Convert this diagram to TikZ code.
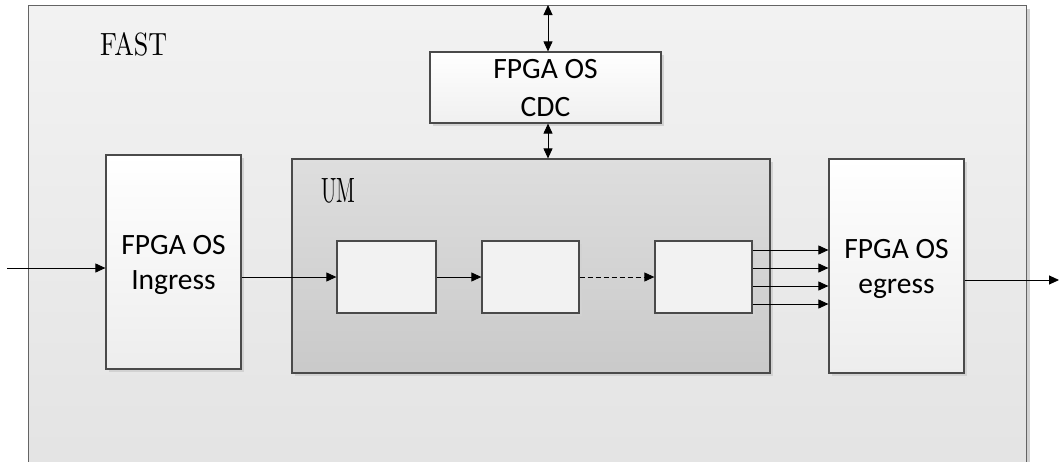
\documentclass[tikz,border=0pt]{standalone}
\usepackage{fontspec}
\usepackage{graphicx}
\newfontfamily\boxfont{Carlito}
\usetikzlibrary{arrows.meta}
\definecolor{edgec}{HTML}{4A4A4A}
\definecolor{fastedge}{HTML}{646464}
\definecolor{shadowc}{HTML}{D2D2D2}
\tikzset{
  shadowed/.style={preaction={fill=shadowc, transform canvas={xshift=3pt,yshift=-3pt}}},
  blk/.style={draw=edgec, line width=1.2pt, inner sep=0pt, align=center,
    font=\boxfont\fontsize{29.5}{35}\selectfont, text depth=0pt, shadowed},
  inner/.style={draw=edgec, line width=1.3pt, fill=black!5, inner sep=0pt,
    minimum height=72pt, shadowed},
  conn/.style={line width=0.9pt, -{Triangle[length=10pt,width=9pt]}},
  biconn/.style={line width=0.9pt, {Triangle[length=10pt,width=9pt]}-{Triangle[length=10pt,width=9pt]}},
}
\begin{document}
\begin{tikzpicture}[x=1pt,y=-1pt]
\useasboundingbox (0,0) rectangle (1059,461);
\clip (0,0) rectangle (1059,461);
\fill[white] (0,0) rectangle (1059,461);

% outer FAST frame (runs past the lower edge)
\node[draw=fastedge, line width=1.3pt, top color=black!5, bottom color=black!11,
  inner sep=0pt, minimum width=998pt, minimum height=480pt, anchor=north west,
  shadowed] (fast) at (28,5) {};
\node[anchor=base west, inner sep=0pt] (fastlbl) at (100,55) {\resizebox{67pt}{23pt}{FAST}};

% user module
\node[draw=edgec, line width=1.2pt, top color=black!13, bottom color=black!21,
  inner sep=0pt, minimum width=478pt, minimum height=214pt, shadowed] (um) at (531,266) {};
\node[anchor=base west, inner sep=0pt] (umlbl) at (321,202) {\resizebox{34pt}{24pt}{UM}};

% FPGA OS blocks
\node[blk, top color=white, bottom color=black!6, minimum width=231pt, minimum height=71pt,
  font=\boxfont\fontsize{29.5}{38}\selectfont, yshift=-2.5pt] (cdc) at (545.5,85) {FPGA OS\\CDC};
\node[blk, top color=white, bottom color=black!7, minimum width=135pt, minimum height=214pt]
  (ingress) at (173.5,262) {FPGA OS\\Ingress};
\node[blk, top color=white, bottom color=black!7, minimum width=135pt, minimum height=214pt]
  (egress) at (896.5,266) {FPGA OS\\egress};

% processing stages inside UM
\node[inner, minimum width=99pt] (s1) at (386.5,277) {};
\node[inner, minimum width=97pt] (s2) at (530.5,277) {};
\node[inner, minimum width=97pt] (s3) at (703.5,277) {};

% connectors
\coordinate (src) at (7,268);
\coordinate (dst) at (1059,280);
\draw[conn] (src) -- (src -| ingress.west);
\draw[conn] (ingress.east |- s1.west) -- (s1.west);
\draw[conn] (s1.east) -- (s2.west);
\draw[conn, dash pattern=on 5pt off 3pt] (s2.east) -- (s3.west);
\foreach \yy in {250,268,286,304}
  \draw[conn] (s3.east |- 0,\yy) -- (egress.west |- 0,\yy);
\draw[conn] (egress.east |- dst) -- (dst);

\draw[biconn] ([xshift=2.5pt]cdc.north) -- ([xshift=2.5pt]cdc.north |- fast.north);
\draw[biconn] ([xshift=2.5pt]cdc.south) -- ([xshift=2.5pt]cdc.south |- um.north);
\end{tikzpicture}
\end{document}
